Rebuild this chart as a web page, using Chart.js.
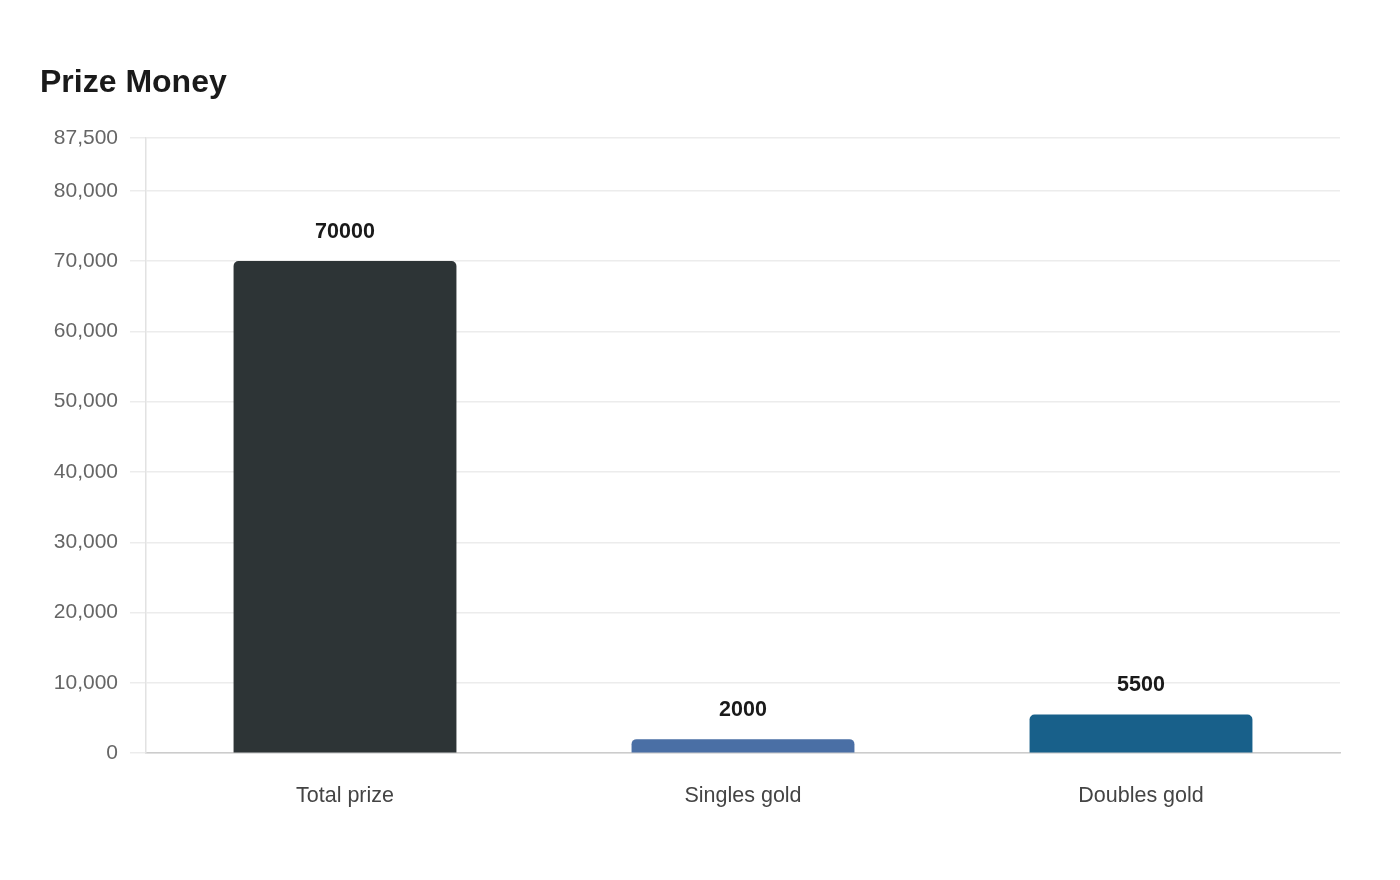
<!DOCTYPE html>
<html>
<head>
<meta charset="utf-8">
<script src="https://cdn.jsdelivr.net/npm/chart.js@4.4.1/dist/chart.umd.min.js"></script>
<style>
  html, body { margin: 0; padding: 0; background: #ffffff; }
  #wrap { width: 1400px; height: 880px; position: relative; }
</style>
</head>
<body>
<div id="wrap"><canvas id="c" width="1400" height="880"></canvas></div>
<script>
const categories = ["Total prize", "Singles gold", "Doubles gold"];
const prizeValues = [70000, 2000, 5500];
const barColors = ["#2d3436", "#4a6fa5", "#18608a"];
const yTickValues = [0, 10000, 20000, 30000, 40000, 50000, 60000, 70000, 80000, 87500];
const chartTitle = "Prize Money";

const FONT = "'Liberation Sans', Arial, Helvetica, sans-serif";

const valueLabels = {
  id: 'valueLabels',
  afterDatasetsDraw(chart) {
    const ctx = chart.ctx;
    const meta = chart.getDatasetMeta(0);
    ctx.save();
    ctx.font = "bold 21.5px " + FONT;
    ctx.fillStyle = "#1a1a1a";
    ctx.textAlign = "center";
    ctx.textBaseline = "middle";
    meta.data.forEach((bar, i) => {
      ctx.fillText(String(prizeValues[i]), bar.x, bar.y - 29);
    });
    ctx.restore();
  }
};

new Chart(document.getElementById('c'), {
  type: 'bar',
  data: {
    labels: categories,
    datasets: [{
      data: prizeValues,
      backgroundColor: barColors,
      borderRadius: { topLeft: 5, topRight: 5, bottomLeft: 0, bottomRight: 0 },
      borderSkipped: 'bottom',
      categoryPercentage: 0.8,
      barPercentage: 0.7
    }]
  },
  options: {
    responsive: false,
    animation: false,
    devicePixelRatio: 1,
    layout: { padding: { top: 64, left: 40, right: 60, bottom: 41 } },
    plugins: {
      legend: { display: false },
      tooltip: { enabled: false },
      title: {
        display: true,
        text: chartTitle,
        align: 'start',
        color: '#1a1a1a',
        font: { family: FONT, size: 32, weight: 'bold' },
        padding: { top: 0, bottom: 35.6 }
      }
    },
    scales: {
      x: {
        grid: { display: false, drawTicks: false },
        border: { color: '#cccccc', width: 1.5 },
        ticks: { color: '#444444', font: { family: FONT, size: 21.5 }, padding: 30 }
      },
      y: {
        min: 0,
        max: 87500,
        afterBuildTicks(scale) {
          scale.ticks = yTickValues.map(v => ({ value: v }));
        },
        afterFit(scale) { scale.width = 106; },
        grid: { color: '#ececec', tickLength: 16, lineWidth: 1.5 },
        border: { color: '#e2e2e2', width: 1.5 },
        ticks: {
          color: '#666666',
          padding: 12,
          font: { family: FONT, size: 21 },
          callback: (v) => Number(v).toLocaleString('en-US')
        }
      }
    }
  },
  plugins: [valueLabels]
});
</script>
</body>
</html>
